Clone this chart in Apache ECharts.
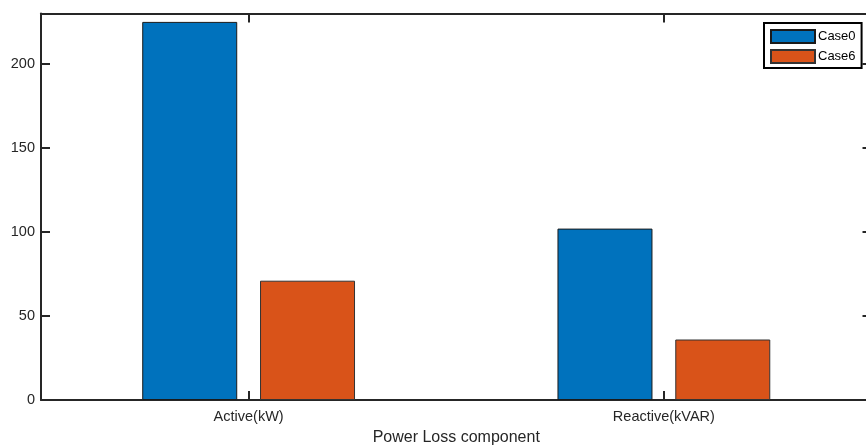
<!DOCTYPE html>
<html>
<head>
<meta charset="utf-8">
<script src="https://cdn.jsdelivr.net/npm/echarts@6/dist/echarts.min.js"></script>
<style>
  html, body { margin: 0; padding: 0; background: #fff; }
  #chart { width: 866px; height: 445px; }
</style>
</head>
<body>
<div id="chart"></div>
<script>
// Power loss per component, base case vs. case 6
const categories = ['Active(kW)', 'Reactive(kVAR)'];
const case0 = [225, 102];
const case6 = [71, 36];
const seriesNames = ['Case0', 'Case6'];
const yTicks = { min: 0, max: 230, interval: 50 };

const axisColor = '#262626';
const font = 'Arial, "Liberation Sans", Helvetica, sans-serif';

const chart = echarts.init(document.getElementById('chart'), null, { renderer: 'canvas' });

const frameAxisLine = { show: true, onZero: false, lineStyle: { color: axisColor, width: 2 } };
const innerTick = (len) => ({ show: true, inside: true, length: len, lineStyle: { color: axisColor, width: 2 } });

chart.setOption({
  animation: false,
  backgroundColor: '#ffffff',
  grid: { left: 41, top: 13.5, width: 830.5, height: 386.5, containLabel: false, outerBoundsMode: 'none' },
  legend: {
    orient: 'vertical',
    left: 764,
    top: 23,
    padding: [6, 6, 4, 6],
    itemGap: 5,
    itemWidth: 44,
    itemHeight: 13,
    borderColor: '#000',
    borderWidth: 2,
    backgroundColor: '#fff',
    icon: 'rect',
    textStyle: { fontFamily: font, fontSize: 13, color: '#000', padding: [0, 0, 0, -2] },
    data: seriesNames
  },
  xAxis: [
    {
      type: 'category',
      data: categories,
      position: 'bottom',
      name: 'Power Loss component',
      nameLocation: 'middle',
      nameGap: 30,
      nameTextStyle: { fontFamily: font, fontSize: 16, color: axisColor },
      axisLine: frameAxisLine,
      axisTick: Object.assign(innerTick(9), { alignWithLabel: true }),
      axisLabel: { fontFamily: font, fontSize: 14.5, color: axisColor, margin: 9 },
      splitLine: { show: false }
    },
    {
      type: 'category',
      data: categories,
      position: 'top',
      axisLine: frameAxisLine,
      axisTick: Object.assign(innerTick(9), { alignWithLabel: true }),
      axisLabel: { show: false },
      splitLine: { show: false }
    }
  ],
  yAxis: [
    {
      type: 'value',
      position: 'left',
      min: yTicks.min,
      max: yTicks.max,
      interval: yTicks.interval,
      axisLine: frameAxisLine,
      axisTick: innerTick(9),
      axisLabel: { fontFamily: font, fontSize: 14.5, color: axisColor, margin: 6, showMaxLabel: false },
      splitLine: { show: false }
    },
    {
      type: 'value',
      position: 'right',
      min: yTicks.min,
      max: yTicks.max,
      interval: yTicks.interval,
      axisLine: frameAxisLine,
      axisTick: innerTick(9),
      axisLabel: { show: false },
      splitLine: { show: false }
    }
  ],
  series: [
    {
      name: seriesNames[0],
      type: 'bar',
      data: case0,
      barWidth: 95,
      barGap: '24%',
      itemStyle: { color: '#0072BD', borderColor: '#1a1a1a', borderWidth: 1 }
    },
    {
      name: seriesNames[1],
      type: 'bar',
      data: case6,
      barWidth: 95,
      barGap: '24%',
      itemStyle: { color: '#D95319', borderColor: '#333', borderWidth: 1 }
    }
  ]
});
</script>
</body>
</html>
